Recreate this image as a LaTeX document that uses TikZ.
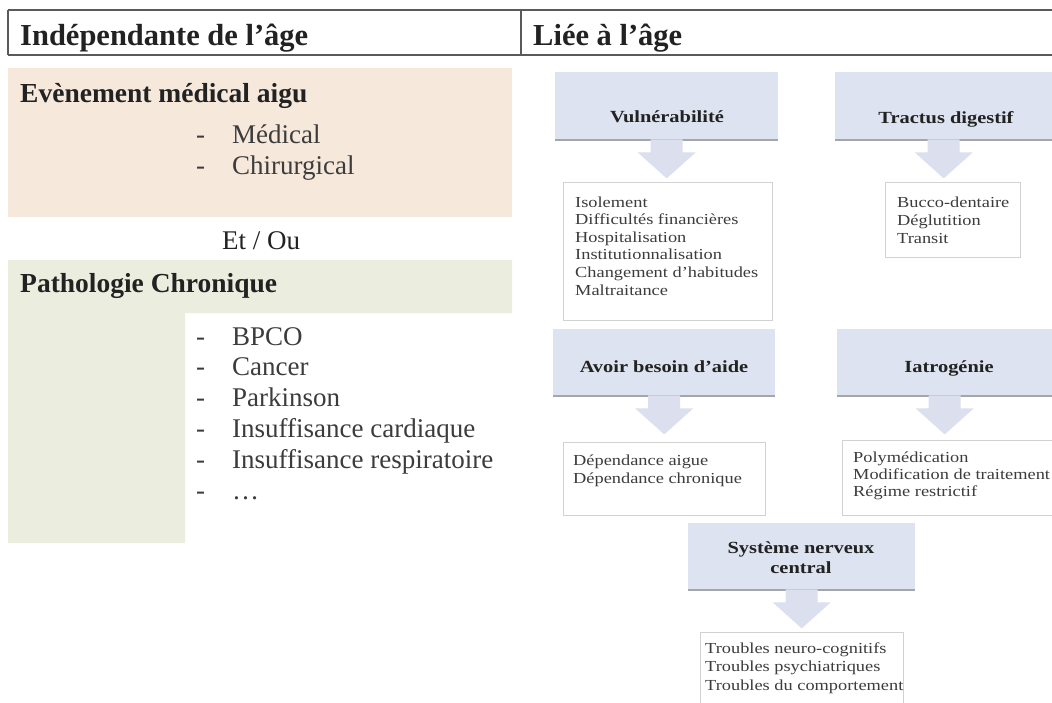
\documentclass[tikz,border=0pt]{standalone}
\usepackage{fontspec}
\setmainfont{Liberation Serif}
\newfontfamily\rfont{Liberation Serif}[FakeStretch=1.2]
\usetikzlibrary{calc}
\definecolor{peach}{HTML}{F6E9DC}
\definecolor{sage}{HTML}{EBEEDF}
\definecolor{bluebox}{HTML}{DDE3F0}
\definecolor{arrowfill}{HTML}{DCE0EE}
\definecolor{hdrgray}{HTML}{5A5A5A}
\definecolor{txtdark}{HTML}{222222}
\definecolor{txtgray}{HTML}{3C3C3C}
\definecolor{wborder}{HTML}{D2D2D2}
\definecolor{shadowgray}{HTML}{A4A6AA}
\newcommand\smartarrow[1]{%
  \fill[arrowfill] ($(#1.south)+(-16,-1)$) -- ($(#1.south)+(16,-1)$) -- ($(#1.south)+(16,12)$)
    -- ($(#1.south)+(29,12)$) -- ($(#1.south)+(0,38)$) -- ($(#1.south)+(-29,12)$)
    -- ($(#1.south)+(-16,12)$) -- cycle;}
\begin{document}
\begin{tikzpicture}[x=1pt,y=-1pt,
  hdrline/.style={draw=hdrgray,line width=2pt},
  hdr/.style={font=\fontsize{30.5}{36}\selectfont\bfseries,text=txtdark,inner sep=0pt},
  lbold/.style={font=\fontsize{27.5}{32}\selectfont\bfseries,text=txtdark,inner sep=0pt},
  litem/.style={font=\fontsize{27}{32}\selectfont,text=txtgray,inner sep=0pt,anchor=base west},
  bbox/.style={fill=bluebox,draw=none,inner sep=0pt,anchor=north west},
  btitle/.style={font=\rfont\bfseries\fontsize{17}{20}\selectfont,text=txtdark,inner sep=0pt,anchor=base},
  wbox/.style={fill=white,draw=wborder,line width=1pt,inner sep=0pt,anchor=north west},
  ritem/.style={font=\rfont\fontsize{15.3}{18}\selectfont,text=txtgray,inner sep=0pt,anchor=base west},
  shline/.style={draw=shadowgray,line width=2pt}]
\useasboundingbox (0,0) rectangle (1052,702);
\clip (0,0) rectangle (1052,702);
\fill[white] (0,0) rectangle (1052,702);

% header table
\draw[hdrline] (8,10) -- (1052,10);
\draw[hdrline] (8,55) -- (1052,55);
\draw[hdrline] (8,10) -- (8,55);
\draw[hdrline] (521,10) -- (521,55);
\node[hdr,anchor=base west] (h1) at (20,45) {Indépendante de l’âge};
\node[hdr,anchor=base west] (h2) at (533,45) {Liée à l’âge};

% left column
\fill[peach] (8,68) rectangle (512,217);
\node[lbold,anchor=base west] (ev) at (20,102) {Evènement médical aigu};
\node[litem] (evd1) at (196,143) {-};
\node[litem] (evi1) at (232,143) {Médical};
\node[litem] (evd2) at (196,174) {-};
\node[litem] (evi2) at (232,174) {Chirurgical};

\node[font=\fontsize{27}{32}\selectfont,text=txtdark,inner sep=0pt,anchor=base] (etou) at (261,249) {Et / Ou};

\fill[sage] (8,260) -- (512,260) -- (512,313) -- (185,313) -- (185,543) -- (8,543) -- cycle;
\node[lbold,anchor=base west] (pc) at (20,292) {Pathologie Chronique};
\foreach \t [count=\i] in {BPCO,Cancer,Parkinson,Insuffisance cardiaque,Insuffisance respiratoire,\dots}{
  \node[litem,name=pcd\i] at (196,{345+(\i-1)*30.8}) {-};
  \node[litem,name=pci\i] at (232,{345+(\i-1)*30.8}) {\t};
}

% right column: blue boxes
\node[bbox,minimum width=223,minimum height=68] (V) at (555,72) {};
\node[bbox,minimum width=217,minimum height=68] (T) at (835,72) {};
\node[bbox,minimum width=222,minimum height=67] (A) at (553,329) {};
\node[bbox,minimum width=215,minimum height=67] (I) at (837,329) {};
\node[bbox,minimum width=227,minimum height=67] (S) at (688,523) {};
\foreach \b in {V,T,A,I,S}{
  \draw[shline] (\b.south west) -- (\b.south east);
}
\node[btitle] (Vt) at (667,122) {Vulnérabilité};
\node[btitle] (Tt) at (946,123) {Tractus digestif};
\node[btitle] (At) at (664,372) {Avoir besoin d’aide};
\node[btitle] (It) at (949,372) {Iatrogénie};
\node[btitle] (St1) at (801,553) {Système nerveux};
\node[btitle] (St2) at (801,573) {central};

% arrows
\smartarrow{V}
\smartarrow{T}
\smartarrow{A}
\smartarrow{I}
\smartarrow{S}

% white list boxes
\node[wbox,minimum width=209,minimum height=138] (Vl) at (563,182) {};
\node[wbox,minimum width=135,minimum height=75] (Tl) at (885,182) {};
\node[wbox,minimum width=202,minimum height=73] (Al) at (563,442) {};
\node[wbox,minimum width=220,minimum height=75] (Il) at (842,440) {};
\node[wbox,minimum width=203,minimum height=80] (Sl) at (700,632) {};

\foreach \t [count=\i] in {Isolement,Difficultés financières,Hospitalisation,Institutionnalisation,Changement d’habitudes,Maltraitance}{
  \node[ritem,name=vl\i] at (575,{207+(\i-1)*17.6}) {\t};
}
\foreach \t [count=\i] in {Bucco-dentaire,Déglutition,Transit}{
  \node[ritem,name=tl\i] at (897,{207+(\i-1)*18}) {\t};
}
\foreach \t [count=\i] in {Dépendance aigue,Dépendance chronique}{
  \node[ritem,name=al\i] at (573,{465+(\i-1)*18}) {\t};
}
\foreach \t [count=\i] in {Polymédication,Modification de traitement,Régime restrictif}{
  \node[ritem,name=il\i] at (853,{462+(\i-1)*17}) {\t};
}
\foreach \t [count=\i] in {Troubles neuro-cognitifs,Troubles psychiatriques,Troubles du comportement}{
  \node[ritem,name=sl\i] at (705,{653+(\i-1)*18.5}) {\t};
}
\end{tikzpicture}
\end{document}
